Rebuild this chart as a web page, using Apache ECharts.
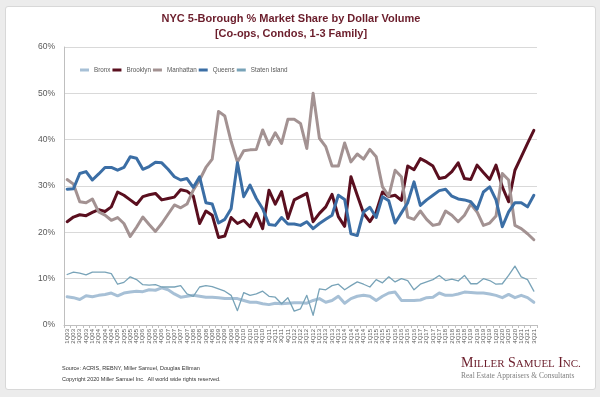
<!DOCTYPE html>
<html>
<head>
<meta charset="utf-8">
<script src="https://cdn.jsdelivr.net/npm/echarts@6/dist/echarts.min.js"></script>
<style>
html, body { margin: 0; padding: 0; background: #ececec; }
#wrap { position: relative; width: 600px; height: 397px; }
#card { position: absolute; left: 5px; top: 6px; width: 589px; height: 382px; background: #fff; border: 1px solid #d8d8d8; border-radius: 3px; }
#chart { position: absolute; left: 0; top: 0; width: 600px; height: 397px; }
</style>
</head>
<body>
<div id="wrap"><div id="card"></div><div id="chart"></div></div>
<script>
// quarters 1Q03 .. 3Q21
var quarters = ['1Q03','2Q03','3Q03','4Q03','1Q04','2Q04','3Q04','4Q04','1Q05','2Q05','3Q05','4Q05',
    '1Q06','2Q06','3Q06','4Q06','1Q07','2Q07','3Q07','4Q07','1Q08','2Q08','3Q08','4Q08',
    '1Q09','2Q09','3Q09','4Q09','1Q10','2Q10','3Q10','4Q10','1Q11','2Q11','3Q11','4Q11',
    '1Q12','2Q12','3Q12','4Q12','1Q13','2Q13','3Q13','4Q13','1Q14','2Q14','3Q14','4Q14',
    '1Q15','2Q15','3Q15','4Q15','1Q16','2Q16','3Q16','4Q16','1Q17','2Q17','3Q17','4Q17',
    '1Q18','2Q18','3Q18','4Q18','1Q19','2Q19','3Q19','4Q19','1Q20','2Q20','3Q20','4Q20',
    '1Q21','2Q21','3Q21'];

var bronx = [6.1, 5.9, 5.5, 6.3, 6.1, 6.4, 6.6, 6.9, 6.3, 6.9, 7.1, 7.3, 7.2, 7.6, 7.5, 8.0, 7.6, 6.7,
    6.0, 6.2, 6.4, 6.2, 6.0, 6.0, 5.9, 5.7, 5.7, 5.7, 5.3, 4.9, 4.9, 4.6, 4.4, 4.7, 4.6, 4.7, 4.8, 4.8,
    4.7, 5.3, 5.7, 4.9, 5.3, 6.2, 4.7, 5.7, 6.2, 6.4, 6.2, 5.3, 6.2, 6.9, 7.1, 5.3, 5.3, 5.3, 5.4,
    5.9, 6.0, 6.9, 6.4, 6.4, 6.7, 7.1, 7.0, 6.9, 6.9, 6.7, 6.4, 5.9, 6.6, 5.9, 6.4, 5.9, 4.9];

var brooklyn = [22.3, 23.3, 23.8, 23.6, 24.3, 24.9, 24.5, 25.5, 28.7, 28.0, 27.0, 26.0, 27.7, 28.1, 28.4, 27.0, 27.3, 27.6, 29.2,
    28.9, 27.8, 21.9, 24.6, 23.7, 18.9, 19.2, 23.2, 21.9, 22.6, 21.2, 24.1, 20.8, 29.1, 26.1, 28.8, 23.0,
    27.0, 27.7, 28.4, 22.3, 24.1, 25.5, 28.2, 23.4, 21.3, 32.0, 28.0, 24.1, 22.3, 24.4, 28.7, 27.7, 28.0, 26.9, 34.3, 33.5, 35.9,
    35.2, 34.3, 31.6, 31.9, 33.1, 35.0, 31.6, 31.4, 34.5, 32.9, 31.4, 34.5, 29.8, 26.6, 33.4, 36.3, 39.2, 42.0];

var manhattan = [31.4, 30.4, 26.6, 26.4, 27.2, 24.4, 23.7, 22.6, 23.2, 21.9, 19.1, 21.1, 23.3, 21.7, 20.2, 21.9, 23.9, 25.9, 25.3,
    26.1, 29.1, 31.3, 34.0, 35.8, 46.1, 45.1, 39.6, 35.2, 37.6, 37.8, 37.9, 42.1, 38.9, 41.5, 39.2, 44.4, 44.4, 43.5,
    38.1, 50.0, 40.3, 38.5, 34.3, 34.3, 39.3, 35.2, 36.9, 35.8, 37.9, 36.3, 29.8, 27.8, 33.4, 32.0, 23.3, 22.8, 24.6,
    22.8, 21.5, 21.8, 24.6, 23.7, 22.3, 23.7, 26.1, 24.4, 21.5, 22.0, 23.5, 32.7, 31.3, 21.5, 20.8, 19.7, 18.4];

var queens = [29.3, 29.4, 32.7, 33.1, 31.3, 32.6, 34.0, 34.0, 33.4, 34.0, 36.3, 36.0, 33.6, 34.2, 35.1, 35.0, 33.6, 32.0,
    31.3, 31.6, 29.7, 32.0, 26.4, 26.1, 22.0, 22.8, 25.1, 35.0, 27.7, 30.2, 27.3, 25.1, 21.7, 21.5, 23.2, 21.8, 21.8, 21.5,
    22.3, 20.8, 21.9, 22.8, 23.7, 28.0, 27.1, 19.7, 19.3, 24.4, 25.4, 23.2, 27.7, 26.8, 22.0, 24.2, 26.4, 30.9, 25.8,
    27.0, 28.0, 29.0, 29.3, 27.8, 27.2, 27.0, 26.6, 25.0, 28.7, 29.8, 27.0, 21.2, 24.4, 26.4, 26.4, 25.5, 28.0];

var statenIsland = [10.9, 11.4, 11.2, 10.8, 11.4, 11.4, 11.4, 11.1, 8.8, 9.2, 10.4, 9.8, 8.7, 8.6, 8.7, 8.2, 8.2, 8.2,
    8.5, 6.7, 6.2, 8.2, 8.5, 8.3, 7.8, 7.3, 6.4, 3.1, 7.0, 6.4, 6.7, 7.3, 6.2, 6.0, 4.6, 5.9, 3.0, 3.5,
    6.4, 2.1, 7.8, 7.6, 8.5, 8.8, 7.6, 8.5, 9.3, 8.8, 8.2, 9.8, 9.1, 10.4, 9.3, 10.0, 9.6, 7.6, 8.8,
    9.3, 9.8, 10.7, 9.6, 9.9, 9.5, 10.7, 8.9, 8.9, 10.0, 9.6, 8.8, 8.9, 10.7, 12.7, 10.4, 9.8, 7.3];

var yTicks = [0, 10, 20, 30, 40, 50, 60];

var myChart = echarts.init(document.getElementById('chart'));

function line(name, data, color, width) {
    return {
        name: name,
        type: 'line',
        data: data,
        symbol: 'none',
        lineStyle: { color: color, width: width, join: 'round', cap: 'round' },
        itemStyle: { color: color }
    };
}

var option = {
    animation: false,
    title: {
        text: 'NYC 5-Borough % Market Share by Dollar Volume\n[Co-ops, Condos, 1-3 Family]',
        left: 286,
        textAlign: 'center',
        top: 6,
        textStyle: {
            fontFamily: 'Liberation Sans',
            fontSize: 11,
            fontWeight: 'bold',
            color: '#6b1d2b',
            lineHeight: 15
        }
    },
    legend: {
        left: 80,
        top: 67,
        padding: 0,
        icon: 'rect',
        itemWidth: 9,
        itemHeight: 3,
        itemGap: 2,
        textStyle: { fontFamily: 'Liberation Sans', fontSize: 6.3, color: '#595959' },
        data: ['Bronx', 'Brooklyn', 'Manhattan', 'Queens', 'Staten Island']
    },
    grid: { left: 64, right: 63, top: 47, bottom: 72 },
    xAxis: {
        type: 'category',
        data: quarters,
        boundaryGap: true,
        axisLine: { lineStyle: { color: '#bfbfbf' } },
        axisTick: { show: true, length: 3, lineStyle: { color: '#bfbfbf' } },
        axisLabel: {
            interval: 0,
            rotate: 90,
            fontSize: 6,
            margin: 4,
            color: '#595959',
            fontFamily: 'Liberation Sans'
        }
    },
    yAxis: {
        type: 'value',
        min: yTicks[0],
        max: yTicks[yTicks.length - 1],
        interval: 10,
        axisLine: { show: true, lineStyle: { color: '#bfbfbf' } },
        axisTick: { show: false },
        splitLine: { lineStyle: { color: '#d9d9d9' } },
        axisLabel: {
            formatter: '{value}%',
            fontSize: 8.5,
            margin: 9,
            color: '#595959',
            fontFamily: 'Liberation Sans'
        }
    },
    series: [
        line('Bronx', bronx, '#a7c0d6', 3),
        line('Brooklyn', brooklyn, '#5a0f1f', 3),
        line('Manhattan', manhattan, '#a39292', 3),
        line('Queens', queens, '#3b6ea5', 3),
        line('Staten Island', statenIsland, '#78a3b8', 1.3)
    ],
    graphic: [
        {
            type: 'text', left: 62, top: 365,
            style: { text: 'Source: ACRIS, REBNY, Miller Samuel, Douglas Elliman', fontSize: 5.5, fontFamily: 'Liberation Sans', fill: '#333' }
        },
        {
            type: 'text', left: 62, top: 376,
            style: { text: 'Copyright 2020 Miller Samuel Inc.  All world wide rights reserved.', fontSize: 5.5, fontFamily: 'Liberation Sans', fill: '#333' }
        },
        {
            type: 'text', left: 461, top: 356,
            style: {
                text: '{b|M}{s|ILLER} {b|S}{s|AMUEL} {b|I}{s|NC.}',
                fill: '#6b1d2b',
                rich: {
                    b: { fontSize: 14, fontFamily: 'Liberation Serif', fill: '#6b1d2b', verticalAlign: 'bottom' },
                    s: { fontSize: 11, fontFamily: 'Liberation Serif', fill: '#6b1d2b', verticalAlign: 'bottom' }
                }
            }
        },
        {
            type: 'text', left: 461, top: 372,
            style: { text: 'Real Estate Appraisers & Consultants', fontSize: 7.5, fontFamily: 'Liberation Serif', fill: '#7f7f7f' }
        }
    ]
};

myChart.setOption(option);
</script>
</body>
</html>
